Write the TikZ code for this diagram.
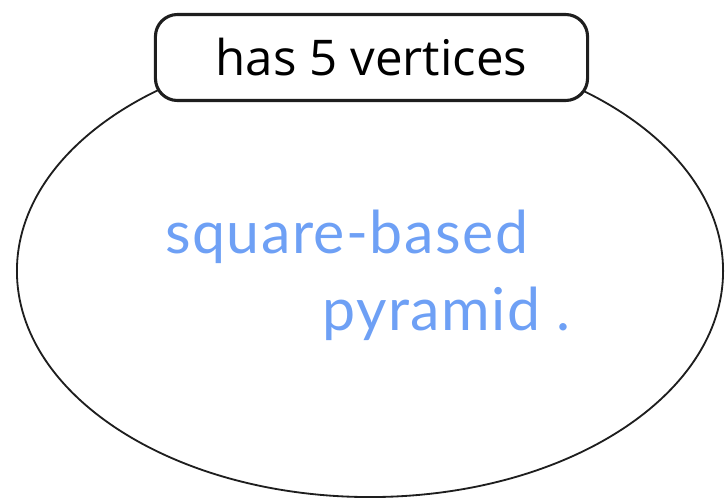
\documentclass[tikz,border=0pt]{standalone}
\usepackage{fontspec}
\setmainfont{Open Sans}
\newfontfamily\handfont[LetterSpace=2.5]{Lato}
\usetikzlibrary{positioning, shapes.geometric}
\definecolor{inkblue}{RGB}{110,160,245}
\definecolor{linegray}{RGB}{30,30,30}

\begin{document}
\begin{tikzpicture}[
  x=0.025cm, y=-0.025cm,
  region/.style={draw=linegray, line width=1.3pt, ellipse,
                 minimum width=17.65cm, minimum height=11.3cm},
  tag/.style={draw=linegray, line width=2.2pt, fill=white, rounded corners=0.55cm,
              minimum width=10.8cm, minimum height=2.15cm,
              font=\fontsize{35}{40}\selectfont},
  hand/.style={text=inkblue, font=\handfont\fontsize{42}{48}\selectfont,
               inner sep=0pt, anchor=base west}
]
  \useasboundingbox (0,0) rectangle (725,499);

  \node[region] (set) at (370,271) {};
  \node[tag] (prop) at (371.5,57.5) {has 5 vertices};

  \node[hand] (word1) at (165,253) {square-based};
  \node[hand] (word2) at (322,330) {pyramid\hspace{0.4cm}.};
\end{tikzpicture}
\end{document}
